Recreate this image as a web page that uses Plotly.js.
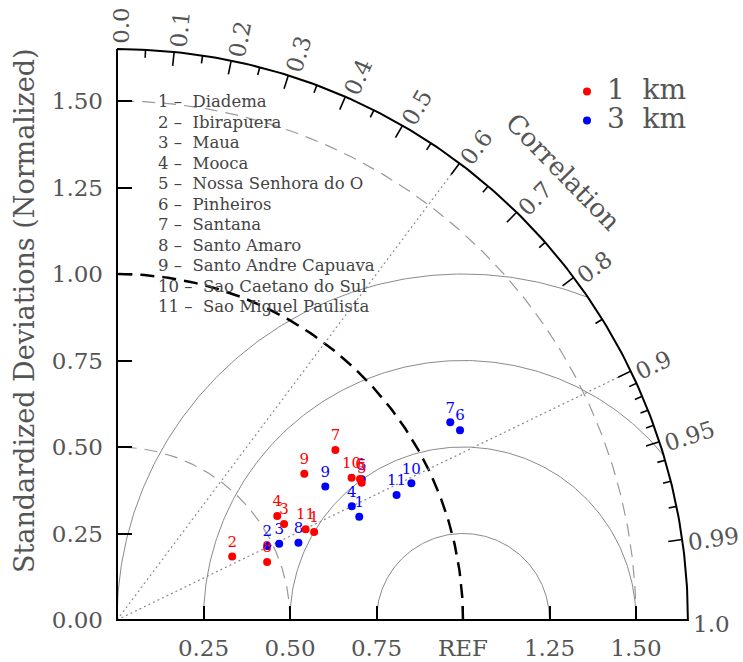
<!DOCTYPE html>
<html><head><meta charset="utf-8">
<script src="https://cdn.plot.ly/plotly-3.0.1.min.js"></script>
<style>html,body{margin:0;padding:0;background:#fff}</style>
</head><body><div id="chart" style="width:743px;height:662px"></div>
<script>
// ---- data ----
const stationIds = ['1','2','3','4','5','6','7','8','9','10','11'];
const stationNames = ['Diadema','Ibirapuera','Maua','Mooca','Nossa Senhora do O','Pinheiros','Santana','Santo Amaro','Santo Andre Capuava','Sao Caetano do Sul','Sao Miguel Paulista'];
const std1km  = [0.624, 0.380, 0.557, 0.552, 0.811, 0.812, 0.800, 0.465, 0.687, 0.793, 0.605];
const corr1km = [0.913, 0.876, 0.867, 0.839, 0.872, 0.865, 0.789, 0.933, 0.788, 0.855, 0.901];
const std3km  = [0.761, 0.484, 0.518, 0.754, 0.816, 1.133, 1.120, 0.570, 0.715, 0.938, 0.885];
const corr3km = [0.920, 0.897, 0.905, 0.900, 0.867, 0.875, 0.860, 0.920, 0.842, 0.907, 0.913];
const seriesNames = ['1\u00A0\u00A0km','3\u00A0\u00A0km'];
const stdTickVals = [0, 0.25, 0.5, 0.75, 1.0, 1.25, 1.5];
const stdTickText = ['0.00','0.25','0.50','0.75','1.00','1.25','1.50'];
const xTickVals = [0.25, 0.5, 0.75, 1.0, 1.25, 1.5];
const xTickText = ['0.25','0.50','0.75','REF','1.25','1.50'];
const corrLabelVals = [0.0,0.1,0.2,0.3,0.4,0.5,0.6,0.7,0.8,0.9,0.95,0.99,1.0];
const corrLabelText = ['0.0','0.1','0.2','0.3','0.4','0.5','0.6','0.7','0.8','0.9','0.95','0.99','1.0'];
const corrMajorTicks = [0.1,0.2,0.3,0.4,0.5,0.6,0.7,0.8,0.9,0.95,0.99];
const corrMinorTicks = [0.05,0.15,0.25,0.35,0.45,0.55,0.65,0.75,0.85,0.91,0.92,0.93,0.94,0.96,0.97,0.98];
const rmsArcs = [0.25, 0.5, 0.75, 1.0];
const stdArcsGray = [0.5, 1.5];
const refStd = 1.0;
const corrLines = [0.6, 0.9];
const RMAX = 1.65;

// ---- geometry helpers ----
const W = 743, H = 662, PX = 346, OX = 117, OY = 620;
const FONT = 'DejaVu Serif';
const GRAY = '#555';
function toXY(s, c){ return [s*c, s*Math.sqrt(Math.max(0,1-c*c))]; }
function quarter(r){ const xs=[],ys=[]; for(let i=0;i<=180;i++){const a=i/180*Math.PI/2; xs.push(r*Math.cos(a)); ys.push(r*Math.sin(a));} return {xs,ys}; }
function rmsArc(R){
  const cmax = Math.min(1,(RMAX*RMAX - refStd*refStd - R*R)/(2*R*refStd));
  const p0 = Math.acos(cmax);
  const xs=[],ys=[];
  for(let i=0;i<=200;i++){const p=p0+(Math.PI-p0)*i/200; xs.push(refStd+R*Math.cos(p)); ys.push(R*Math.sin(p));}
  return {xs,ys};
}
const traces = [];
rmsArcs.forEach(R=>{ const a=rmsArc(R); traces.push({x:a.xs,y:a.ys,mode:'lines',line:{color:'#8a8a8a',width:1},hoverinfo:'skip',showlegend:false}); });
stdArcsGray.forEach(r=>{ const a=quarter(r); traces.push({x:a.xs,y:a.ys,mode:'lines',line:{color:'#999',width:1.2,dash:'13px,8px'},hoverinfo:'skip',showlegend:false}); });
{ const a=quarter(refStd); traces.push({x:a.xs,y:a.ys,mode:'lines',line:{color:'#000',width:2.5,dash:'14px,8px'},hoverinfo:'skip',showlegend:false}); }
corrLines.forEach(c=>{ const e=toXY(RMAX,c); traces.push({x:[0,e[0]],y:[0,e[1]],mode:'lines',line:{color:'#8a8a8a',width:1.2,dash:'2px,3px'},hoverinfo:'skip',showlegend:false}); });
// frame
{ const a=quarter(RMAX); traces.push({x:[0,0].concat(a.xs),y:[RMAX,0].concat(a.ys),mode:'lines',line:{color:'#000',width:2},hoverinfo:'skip',showlegend:false}); }
// correlation ticks
{ const xs=[],ys=[];
  const add=(c,len)=>{const o=toXY(RMAX,c), i=toXY(RMAX-len/PX,c); xs.push(o[0],i[0],null); ys.push(o[1],i[1],null);};
  corrMajorTicks.forEach(c=>add(c,14)); corrMinorTicks.forEach(c=>add(c,8));
  traces.push({x:xs,y:ys,mode:'lines',line:{color:'#000',width:1.6},hoverinfo:'skip',showlegend:false});
}
// data
function series(std,corr,color,name){
  const xs=[],ys=[];
  std.forEach((s,i)=>{const p=toXY(s,corr[i]); xs.push(p[0]); ys.push(p[1]);});
  return {x:xs,y:ys,mode:'markers+text',text:stationIds,textposition:'top center',cliponaxis:false,
    textfont:{family:FONT,size:15,color:color},marker:{color:color,size:8},
    name:'<span style="font-size:28px">'+name+'</span>',hoverinfo:'skip'};
}
traces.push(series(std3km,corr3km,'#0000ff',seriesNames[1]));
traces.push(series(std1km,corr1km,'#ff0000',seriesNames[0]));

// annotations
const annotations = [];
const charW = ch => ch==='.' ? 0.318 : 0.636;
corrLabelVals.forEach((c,i)=>{
  const th = Math.acos(c);
  const txt = corrLabelText[i];
  const w = txt.split('').reduce((a,ch)=>a+charW(ch),0)*23;
  const r = RMAX + (5 + w/2)/PX, p = 4/PX;
  annotations.push({x:r*Math.cos(th)+p*Math.sin(th), y:r*Math.sin(th)-p*Math.cos(th), xref:'x', yref:'y',
    text:txt, showarrow:false, textangle:-th*180/Math.PI, xanchor:'center', yanchor:'middle',
    font:{family:FONT,size:23,color:GRAY}});
});
annotations.push({x:(563.3-OX)/PX, y:(OY-171.7)/PX, xref:'x', yref:'y', text:'Correlation', showarrow:false,
  textangle:45.8, xanchor:'center', yanchor:'middle', font:{family:FONT,size:26,color:GRAY}});
annotations.push({x:(24-OX)/PX, y:(OY-311)/PX, xref:'x', yref:'y', text:'Standardized Deviations (Normalized)', showarrow:false,
  textangle:-90, xanchor:'center', yanchor:'middle', font:{family:FONT,size:27,color:GRAY}});
stationIds.forEach((id,i)=>{
  annotations.push({x:(156-OX)/PX, y:(OY-(101.7+i*20.5))/PX, xref:'x', yref:'y', showarrow:false, xanchor:'left', yanchor:'middle', align:'left',
    text: id+'\u00A0\u2013\u00A0\u00A0'+stationNames[i], font:{family:FONT,size:16.5,color:'#444'}});
});

const layout = {
  width:W, height:H, margin:{l:0,r:0,t:0,b:0,autoexpand:false}, paper_bgcolor:'#fff', plot_bgcolor:'#fff',
  xaxis:{range:[-OX/PX,(W-OX)/PX], anchor:'free', position:(H-OY)/H, tickmode:'array', tickvals:xTickVals, ticktext:xTickText,
    ticks:'inside', ticklen:14, tickwidth:2, tickcolor:'#000', showgrid:false, zeroline:false, showline:false,
    ticklabelstandoff:12, tickfont:{family:FONT,size:23,color:GRAY}, fixedrange:true, automargin:false},
  yaxis:{range:[-(H-OY)/PX, OY/PX], anchor:'free', position:OX/W, tickmode:'array', tickvals:stdTickVals, ticktext:stdTickText,
    ticks:'inside', ticklen:14, tickwidth:2, tickcolor:'#000', showgrid:false, zeroline:false, showline:false,
    ticklabelstandoff:14, tickfont:{family:FONT,size:23,color:GRAY}, fixedrange:true, automargin:false},
  showlegend:true,
  legend:{x:567/W, y:1-72/H, xanchor:'left', yanchor:'top', traceorder:'reversed', bgcolor:'rgba(0,0,0,0)',
    font:{family:FONT,size:20,color:GRAY}},
  annotations:annotations
};
Plotly.newPlot('chart', traces, layout, {staticPlot:true, displayModeBar:false});
</script></body></html>
